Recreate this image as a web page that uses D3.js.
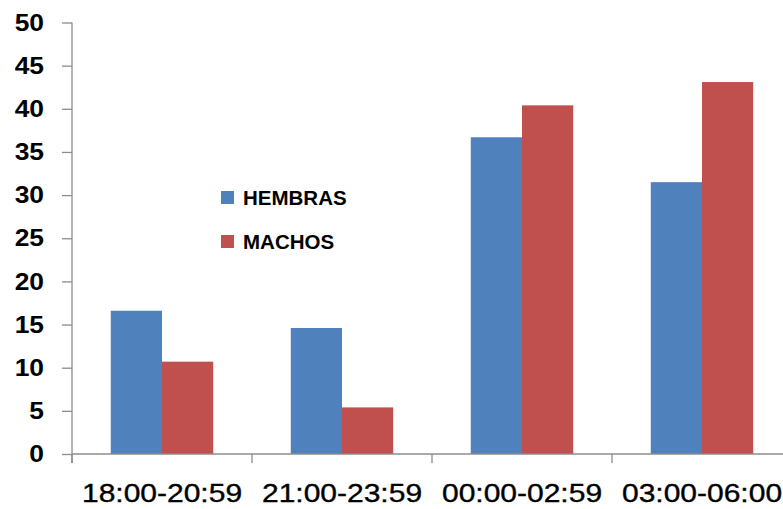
<!DOCTYPE html>
<html>
<head>
<meta charset="utf-8">
<script src="https://cdn.jsdelivr.net/npm/d3@7"></script>
<style>
  html, body { margin: 0; padding: 0; background: #fff; }
  svg { display: block; }
</style>
</head>
<body>
<svg id="chart" width="783" height="509"></svg>
<script>
const categories = ["18:00-20:59", "21:00-23:59", "00:00-02:59", "03:00-06:00"];
const seriesNames = ["HEMBRAS", "MACHOS"];
const hembras = [16.6, 14.6, 36.7, 31.5];
const machos = [10.7, 5.4, 40.4, 43.1];
const yTicks = [0, 5, 10, 15, 20, 25, 30, 35, 40, 45, 50];
const colors = ["#4F81BD", "#C0504D"];

const svg = d3.select("#chart");
const axisColor = "#8c8c8c";
const fontFam = "'Liberation Sans', Arial, sans-serif";

const y = d3.scaleLinear().domain([0, 50]).range([454, 22.5]);
const x = d3.scaleBand().domain(categories).range([72, 792])
  .paddingInner(0.431).paddingOuter(0.2155);
const xs = d3.scaleBand().domain(seriesNames).range([0, x.bandwidth()]);

const data = categories.map((c, i) => ({ cat: c, values: [hembras[i], machos[i]] }));

// bars
const groups = svg.append("g").selectAll("g").data(data).join("g")
  .attr("transform", d => `translate(${x(d.cat)},0)`);
groups.selectAll("rect")
  .data(d => d.values.map((v, j) => ({ name: seriesNames[j], v, j })))
  .join("rect")
  .attr("x", d => xs(d.name))
  .attr("width", xs.bandwidth())
  .attr("y", d => y(d.v))
  .attr("height", d => y(0) - y(d.v))
  .attr("fill", d => colors[d.j]);

// y axis
const yAxis = svg.append("g").attr("transform", "translate(72,0)")
  .call(d3.axisLeft(y).tickValues(yTicks).tickSize(10).tickPadding(18).tickSizeOuter(0));
yAxis.select(".domain").attr("stroke", axisColor).attr("stroke-width", 1.3)
  .attr("d", `M0,${y(50)}V${y(0) + 9}`);
yAxis.selectAll(".tick line").attr("stroke", axisColor).attr("stroke-width", 1.3);
yAxis.selectAll(".tick text")
  .attr("fill", "#000")
  .style("font-family", fontFam)
  .style("font-size", "24px")
  .style("font-weight", "bold")
  .each(function() {
    const t = d3.select(this);
    const tx = +t.attr("x");
    t.attr("x", 0).attr("transform", `translate(${tx},0) scale(1.1,1)`);
  });

// x axis
const step = x.step();
const off = (step - x.bandwidth()) / 2;
const bounds = categories.map(c => x(c) - off).concat([x(categories[categories.length - 1]) - off + step]);
const xAxis = svg.append("g");
xAxis.append("line").attr("x1", 72).attr("x2", 783).attr("y1", y(0)).attr("y2", y(0))
  .attr("stroke", axisColor).attr("stroke-width", 1.3);
xAxis.selectAll("line.tk").data(bounds).join("line").attr("class", "tk")
  .attr("x1", d => d).attr("x2", d => d).attr("y1", y(0)).attr("y2", y(0) + 9)
  .attr("stroke", axisColor).attr("stroke-width", 1.3);
xAxis.selectAll("text").data(categories).join("text")
  .attr("transform", d => `translate(${x(d) + x.bandwidth() / 2},502) scale(1.2,1)`)
  .attr("text-anchor", "middle")
  .style("font-family", fontFam)
  .style("font-size", "25px")
  .attr("fill", "#000")
  .attr("stroke", "#000")
  .attr("stroke-width", 0.35)
  .text(d => d);

// legend
const legend = svg.append("g").selectAll("g").data(seriesNames).join("g")
  .attr("transform", (d, i) => `translate(221,${191 + i * 44})`);
legend.append("rect").attr("width", 13).attr("height", 13)
  .attr("fill", (d, i) => colors[i]);
legend.append("text").attr("x", 22).attr("y", 13.5)
  .style("font-family", fontFam).style("font-size", "20.5px").style("font-weight", "bold")
  .attr("fill", "#000")
  .text(d => d);
</script>
</body>
</html>
